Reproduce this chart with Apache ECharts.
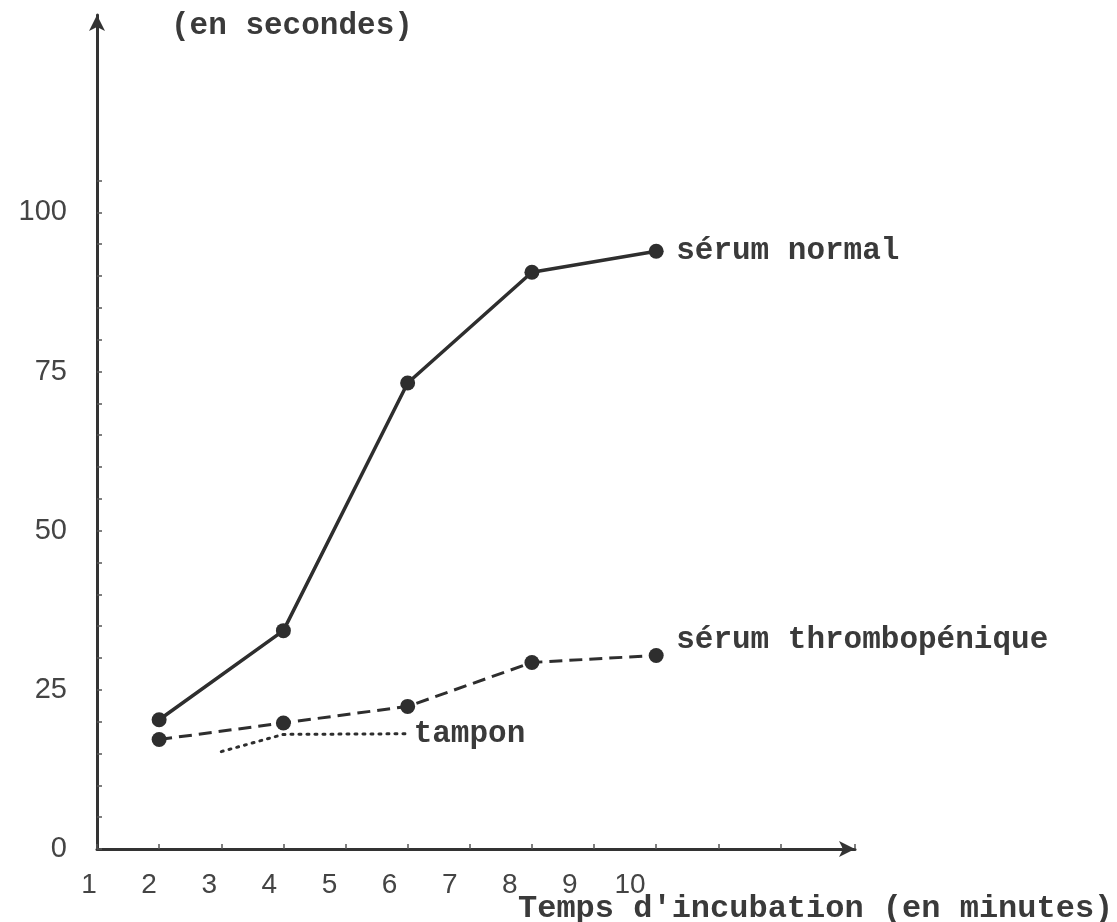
<!DOCTYPE html>
<html>
<head>
<meta charset="utf-8">
<script src="https://cdn.jsdelivr.net/npm/echarts@6/dist/echarts.min.js"></script>
<style>
html,body{margin:0;padding:0;background:#fff;}
#chart{width:1117px;height:922px;}
</style>
</head>
<body>
<div id="chart"></div>
<script>
// ---- data ----
const minutes = [2, 4, 6, 8, 10];
const serumNormal = [20.3, 34.3, 73.2, 90.6, 93.9];
const serumThrombo = [17.2, 19.8, 22.4, 29.3, 30.4];
const tamponMinutes = [3, 4, 6];
const tampon = [15.3, 18.0, 18.1];
const xTickLabels = [1, 2, 3, 4, 5, 6, 7, 8, 9, 10];
const yTickLabels = [0, 25, 50, 75, 100];
const yTickMarks = [0, 5, 10, 15, 20, 25, 30, 35, 40, 45, 50, 55, 60, 65, 70, 75, 80, 85, 90, 95, 100, 105];
const names = ['sérum normal', 'sérum thrombopénique', 'tampon'];
const yTitle = '(en secondes)';
const xTitle = "Temps d'incubation (en minutes)";

const zip = (xs, ys) => xs.map((x, i) => [x, ys[i]]);
const ink = '#2e2e2e';
const textInk = '#3a3a3a';
const mono = 'Liberation Mono, Courier New, monospace';
const sans = 'Liberation Sans, Arial, sans-serif';

const chart = echarts.init(document.getElementById('chart'), null, {renderer: 'canvas'});
chart.setOption({
  backgroundColor: '#fff',
  animation: false,
  title: [
    {text: yTitle, left: 166, top: 6,
     textStyle: {fontFamily: mono, fontSize: 31, fontWeight: 'bold', color: textInk}},
    {text: xTitle, left: 513, top: 888,
     textStyle: {fontFamily: mono, fontSize: 32, fontWeight: 'bold', color: textInk}}
  ],
  grid: [
    {left: 97, right: 262, top: 15, bottom: 73},
    {left: 89, right: 487, top: 15, bottom: 73}
  ],
  xAxis: [
    {
      type: 'value', gridIndex: 0, min: 1, max: 13.2, interval: 1,
      axisLine: {show: true, onZero: false, lineStyle: {color: '#333', width: 3},
                 symbol: ['none', 'arrow'], symbolSize: [12, 16]},
      axisTick: {show: true, inside: true, length: 5, lineStyle: {color: '#555', width: 1.5}},
      axisLabel: {show: false},
      splitLine: {show: false}
    },
    {
      type: 'value', gridIndex: 1, min: 1, max: 10, interval: 1,
      axisLine: {show: false}, axisTick: {show: false}, splitLine: {show: false},
      axisLabel: {
        show: true, margin: 22, color: '#444', fontFamily: sans, fontSize: 28,
        customValues: xTickLabels,
        formatter: v => (xTickLabels.indexOf(v) >= 0 ? String(v) : '')
      }
    }
  ],
  yAxis: [
    {
      type: 'value', gridIndex: 0, min: 0, max: 131, interval: 5,
      axisLine: {show: true, onZero: false, lineStyle: {color: '#333', width: 3},
                 symbol: ['none', 'arrow'], symbolSize: [12, 16]},
      axisTick: {show: true, inside: true, length: 5, customValues: yTickMarks,
                 lineStyle: {color: '#555', width: 1.5}},
      axisLabel: {
        show: true, margin: 30, color: '#444', fontFamily: sans, fontSize: 29,
        customValues: yTickLabels,
        formatter: v => (yTickLabels.indexOf(v) >= 0 ? String(v) : '')
      },
      splitLine: {show: false}
    },
    {type: 'value', gridIndex: 1, min: 0, max: 131, show: false}
  ],
  series: [
    {
      name: names[0], type: 'line', xAxisIndex: 0, yAxisIndex: 0,
      data: zip(minutes, serumNormal),
      symbol: 'circle', symbolSize: 15,
      itemStyle: {color: ink},
      lineStyle: {color: ink, width: 3.5},
      endLabel: {show: true, formatter: '{a}', distance: 20,
                 fontFamily: mono, fontSize: 31, fontWeight: 'bold', color: textInk}
    },
    {
      name: names[1], type: 'line', xAxisIndex: 0, yAxisIndex: 0,
      data: zip(minutes, serumThrombo),
      symbol: 'circle', symbolSize: 15,
      itemStyle: {color: ink},
      lineStyle: {color: ink, width: 3, type: [13, 7]},
      endLabel: {show: true, formatter: '{a}', distance: 20, offset: [0, -15],
                 fontFamily: mono, fontSize: 31, fontWeight: 'bold', color: textInk}
    },
    {
      name: names[2], type: 'line', xAxisIndex: 0, yAxisIndex: 0,
      data: zip(tamponMinutes, tampon),
      symbol: 'none',
      lineStyle: {color: ink, width: 3, type: [2, 6], cap: 'round'},
      endLabel: {show: true, formatter: '{a}', distance: 6,
                 fontFamily: mono, fontSize: 31, fontWeight: 'bold', color: textInk}
    }
  ]
});
</script>
</body>
</html>
